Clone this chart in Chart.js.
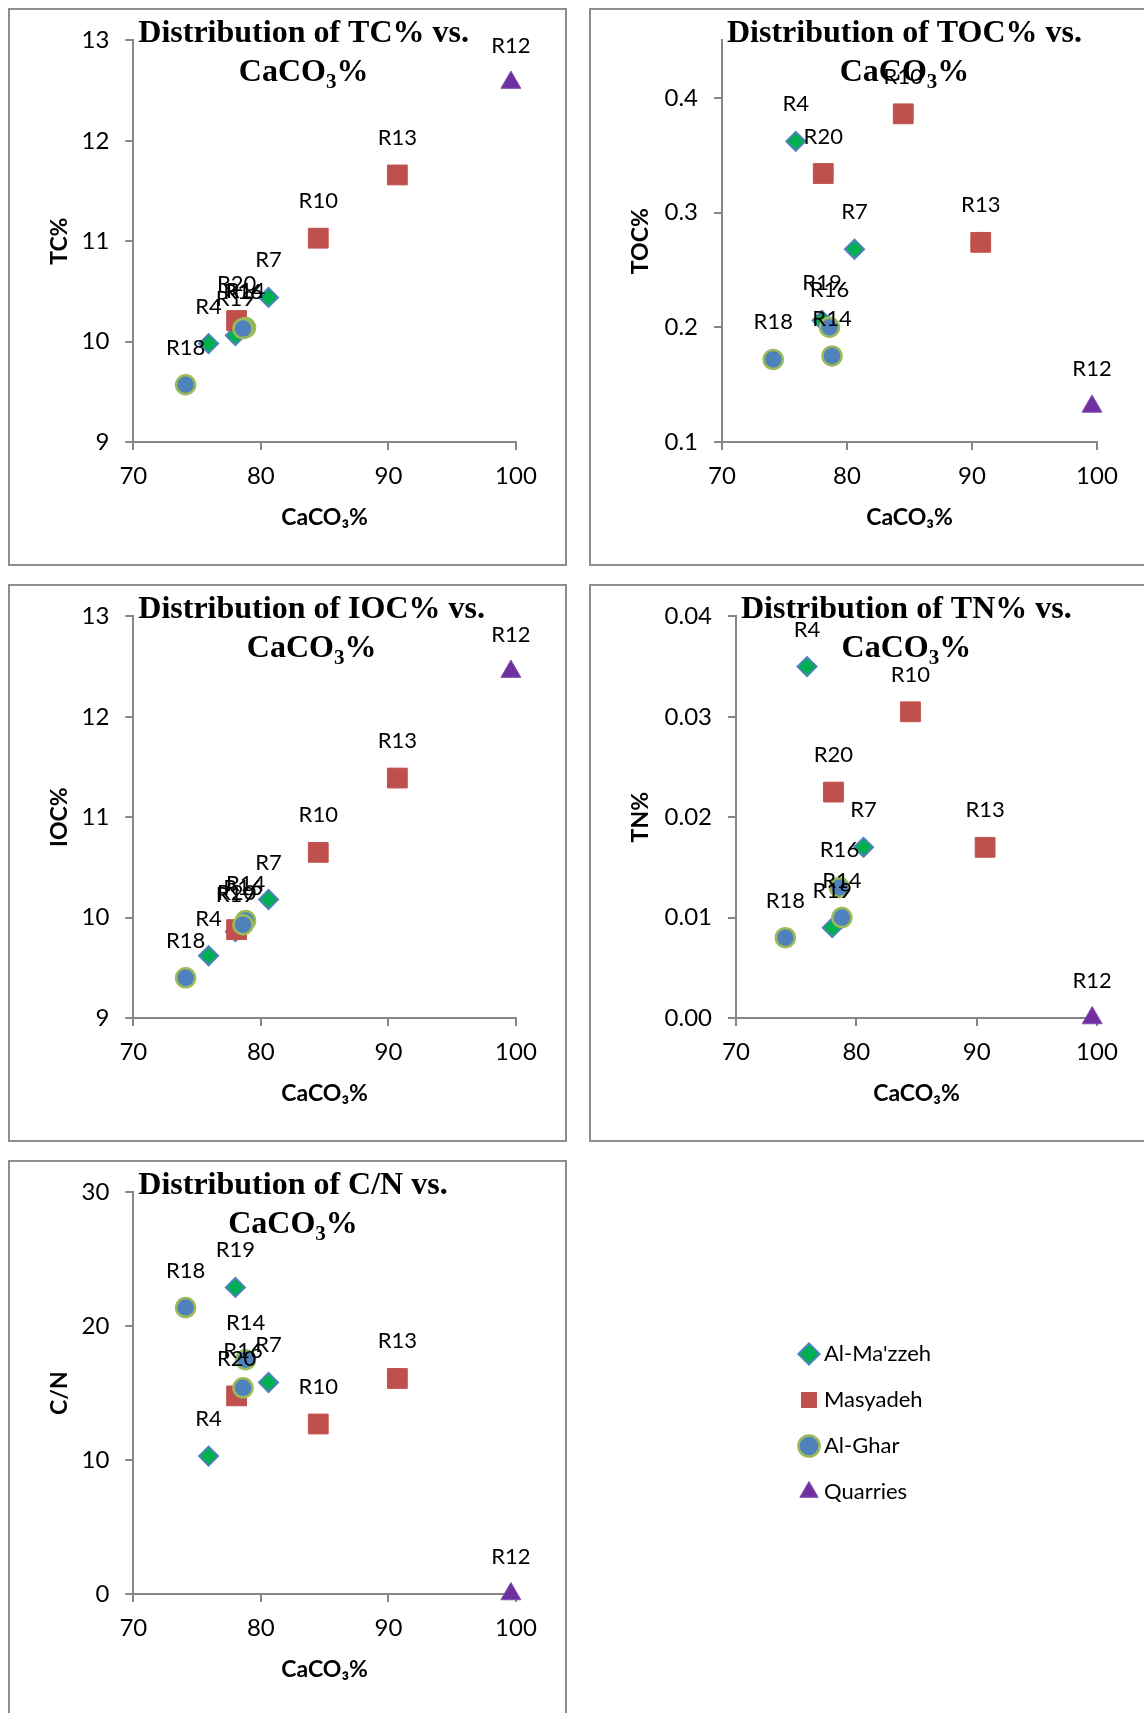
<!DOCTYPE html>
<html>
<head>
<meta charset="utf-8">
<script src="https://cdn.jsdelivr.net/npm/chart.js@4.4.1/dist/chart.umd.min.js"></script>
<style>
  html, body { margin: 0; padding: 0; background: #ffffff; width: 1144px; height: 1713px; overflow: hidden; }
  .panel { position: absolute; border: 2px solid #8e8e8e; background: #ffffff; }
  .panel canvas, #legendCanvas { display: block; }
  #legendWrap { position: absolute; left: 781px; top: 1319px; }
</style>
</head>
<body>
<div class="panel" style="left:8px;top:8px;"><canvas id="cTC" width="555" height="554" style="width:555px;height:554px"></canvas></div>
<div class="panel" style="left:589px;top:8px;"><canvas id="cTOC" width="555" height="554" style="width:555px;height:554px"></canvas></div>
<div class="panel" style="left:8px;top:584px;"><canvas id="cIOC" width="555" height="554" style="width:555px;height:554px"></canvas></div>
<div class="panel" style="left:589px;top:584px;"><canvas id="cTN" width="555" height="554" style="width:555px;height:554px"></canvas></div>
<div class="panel" style="left:8px;top:1160px;"><canvas id="cCN" width="555" height="554" style="width:555px;height:554px"></canvas></div>
<div id="legendWrap"><canvas id="legendCanvas" width="800" height="300" style="width:800px;height:300px"></canvas></div>

<script>
// ---------------- DATA ----------------
const seriesNames = ["Al-Ma'zzeh", "Masyadeh", "Al-Ghar", "Quarries"];

const samplesMazzeh   = ["R4", "R7", "R19"];
const samplesMasyadeh = ["R10", "R13", "R20"];
const samplesGhar     = ["R14", "R16", "R18"];
const samplesQuarries = ["R12"];

const caco3Mazzeh   = [75.9, 80.6, 78.0];
const caco3Masyadeh = [84.5, 90.7, 78.1];
const caco3Ghar     = [78.8, 78.6, 74.1];
const caco3Quarries = [99.6];

const tcMazzeh   = [9.98, 10.44, 10.06];
const tcMasyadeh = [11.03, 11.66, 10.21];
const tcGhar     = [10.14, 10.13, 9.57];
const tcQuarries = [12.58];

const tocMazzeh   = [0.362, 0.268, 0.206];
const tocMasyadeh = [0.386, 0.274, 0.334];
const tocGhar     = [0.175, 0.200, 0.172];
const tocQuarries = [0.131];

const iocMazzeh   = [9.62, 10.18, 9.86];
const iocMasyadeh = [10.65, 11.39, 9.88];
const iocGhar     = [9.97, 9.93, 9.40];
const iocQuarries = [12.45];

const tnMazzeh   = [0.035, 0.017, 0.009];
const tnMasyadeh = [0.0305, 0.017, 0.0225];
const tnGhar     = [0.010, 0.013, 0.008];
const tnQuarries = [0.000];

const cnMazzeh   = [10.3, 15.8, 22.9];
const cnMasyadeh = [12.7, 16.1, 14.8];
const cnGhar     = [17.5, 15.4, 21.4];
const cnQuarries = [0];

const xTicks = [70, 80, 90, 100];

// ---------------- STYLES ----------------
const seriesStyles = [
  { pointStyle: 'rectRot',  pointRadius: 9.5,  bg: '#00B050', border: '#4F81BD', bw: 2,   order: 4 },
  { pointStyle: 'rect',     pointRadius: 14,   bg: '#C0504D', border: '#C0504D', bw: 1,   order: 3 },
  { pointStyle: 'circle',   pointRadius: 9.5,  bg: '#4F81BD', border: '#9BBB59', bw: 2.5, order: 2 },
  { pointStyle: 'triangle', pointRadius: 11.5, bg: '#7030A0', border: '#7F4FB0', bw: 1,   order: 1 }
];
const AXIS_COLOR = '#868686';
const TICK_FONT = { family: 'Lato', size: 24 };
const AXIS_TITLE_FONT = { family: 'Lato', size: 23, weight: 'bold' };

function makeDataset(i, xs, ys, names) {
  const s = seriesStyles[i];
  return {
    label: seriesNames[i],
    data: xs.map((x, k) => ({ x: x, y: ys[k] })),
    names: names,
    order: s.order,
    clip: false,
    pointStyle: s.pointStyle,
    pointRadius: s.pointRadius,
    pointHoverRadius: s.pointRadius,
    pointBackgroundColor: s.bg,
    pointBorderColor: s.border,
    pointBorderWidth: s.bw,
    backgroundColor: s.bg,
    borderColor: s.border,
    borderWidth: s.bw,
    showLine: false
  };
}

// data labels ("above" position)
const pointLabels = {
  id: 'pointLabels',
  afterDatasetsDraw(chart) {
    const ctx = chart.ctx;
    ctx.save();
    ctx.font = '22px Lato';
    ctx.fillStyle = '#000000';
    ctx.textAlign = 'center';
    ctx.textBaseline = 'alphabetic';
    chart.data.datasets.forEach((ds, di) => {
      const meta = chart.getDatasetMeta(di);
      meta.data.forEach((pt, i) => {
        ctx.fillText(ds.names[i], pt.x, pt.y - 30);
      });
    });
    ctx.restore();
  }
};

// two-line chart title with CaCO3 subscript, overlapping the plot like Excel
function excelTitle(line1) {
  return {
    id: 'excelTitle',
    afterDraw(chart) {
      const ctx = chart.ctx;
      ctx.save();
      ctx.fillStyle = '#000000';
      ctx.textAlign = 'left';
      ctx.textBaseline = 'alphabetic';
      const big = 'bold 32px "Liberation Serif"';
      const sub = 'bold 21px "Liberation Serif"';
      ctx.font = big;
      const w1 = ctx.measureText(line1).width;
      const x1 = chart.chartArea.left + 5;
      ctx.fillText(line1, x1, 32);
      const cx = x1 + w1 / 2;
      const wa = ctx.measureText('CaCO').width;
      const wc = ctx.measureText('%').width;
      ctx.font = sub;
      const wb = ctx.measureText('3').width;
      let x = cx - (wa + wb + wc) / 2;
      ctx.font = big; ctx.fillText('CaCO', x, 71); x += wa;
      ctx.font = sub; ctx.fillText('3', x, 78); x += wb;
      ctx.font = big; ctx.fillText('%', x, 71);
      ctx.restore();
    }
  };
}

function makeChart(id, cfg) {
  const datasets = [
    makeDataset(0, caco3Mazzeh, cfg.values[0], samplesMazzeh),
    makeDataset(1, caco3Masyadeh, cfg.values[1], samplesMasyadeh),
    makeDataset(2, caco3Ghar, cfg.values[2], samplesGhar),
    makeDataset(3, caco3Quarries, cfg.values[3], samplesQuarries)
  ];
  return new Chart(document.getElementById(id), {
    type: 'scatter',
    data: { datasets: datasets },
    options: {
      responsive: false,
      animation: false,
      events: [],
      layout: { padding: { left: 0, right: 49, top: 27.5, bottom: 0 } },
      scales: {
        x: {
          type: 'linear',
          min: xTicks[0], max: xTicks[xTicks.length - 1],
          afterFit(s) { s.height = 122; },
          afterBuildTicks(s) { s.ticks = xTicks.map(v => ({ value: v })); },
          ticks: { stepSize: 10, font: TICK_FONT, color: '#000000', padding: 12, maxRotation: 0, autoSkip: false },
          grid: { drawOnChartArea: false, drawTicks: true, tickLength: 8, color: AXIS_COLOR, lineWidth: 2 },
          border: { display: true, color: AXIS_COLOR, width: 2 },
          title: { display: true, text: 'CaCO\u2083%', font: AXIS_TITLE_FONT, color: '#000000', padding: { top: 0, bottom: 33 } }
        },
        y: {
          type: 'linear',
          min: cfg.yMin, max: cfg.yMax,
          afterFit(s) { s.width = cfg.yWidth; },
          ticks: {
            stepSize: cfg.yStep, includeBounds: false,
            font: TICK_FONT, color: '#000000', padding: 16,
            callback: (v) => Number(v).toFixed(cfg.yDec)
          },
          grid: { drawOnChartArea: false, drawTicks: true, tickLength: 8, color: AXIS_COLOR, lineWidth: 2 },
          border: { display: true, color: AXIS_COLOR, width: 2 },
          title: { display: true, text: cfg.yTitle, font: AXIS_TITLE_FONT, color: '#000000', padding: { top: 36, bottom: 0 } }
        }
      },
      plugins: { legend: { display: false }, tooltip: { enabled: false }, title: { display: false } }
    },
    plugins: [pointLabels, excelTitle(cfg.title)]
  });
}

makeChart('cTC', {
  values: [tcMazzeh, tcMasyadeh, tcGhar, tcQuarries],
  yMin: 9, yMax: 13, yStep: 1, yDec: 0, yWidth: 123.3, yTitle: 'TC%',
  title: 'Distribution of TC% vs.'
});
makeChart('cTOC', {
  values: [tocMazzeh, tocMasyadeh, tocGhar, tocQuarries],
  yMin: 0.1, yMax: 0.45, yStep: 0.1, yDec: 1, yWidth: 131, yTitle: 'TOC%',
  title: 'Distribution of TOC% vs.'
});
makeChart('cIOC', {
  values: [iocMazzeh, iocMasyadeh, iocGhar, iocQuarries],
  yMin: 9, yMax: 13, yStep: 1, yDec: 0, yWidth: 123.3, yTitle: 'IOC%',
  title: 'Distribution of IOC% vs.'
});
makeChart('cTN', {
  values: [tnMazzeh, tnMasyadeh, tnGhar, tnQuarries],
  yMin: 0, yMax: 0.04, yStep: 0.01, yDec: 2, yWidth: 145, yTitle: 'TN%',
  title: 'Distribution of TN% vs.'
});
makeChart('cCN', {
  values: [cnMazzeh, cnMasyadeh, cnGhar, cnQuarries],
  yMin: 0, yMax: 30, yStep: 10, yDec: 0, yWidth: 123.3, yTitle: 'C/N',
  title: 'Distribution of C/N vs.'
});

// legend (separate area, bottom right)
new Chart(document.getElementById('legendCanvas'), {
  type: 'scatter',
  data: {
    datasets: seriesNames.map((n, i) => {
      const d = makeDataset(i, [], [], []);
      delete d.order;
      return d;
    })
  },
  options: {
    responsive: false,
    animation: false,
    events: [],
    layout: { padding: 0 },
    scales: { x: { display: false }, y: { display: false } },
    plugins: {
      tooltip: { enabled: false },
      legend: {
        display: true,
        position: 'left',
        align: 'start',
        labels: {
          usePointStyle: true,
          boxWidth: 8,
          boxHeight: 15,
          padding: 24,
          color: '#000000',
          font: { family: 'Lato', size: 22 }
        }
      }
    }
  }
});
</script>
</body>
</html>
